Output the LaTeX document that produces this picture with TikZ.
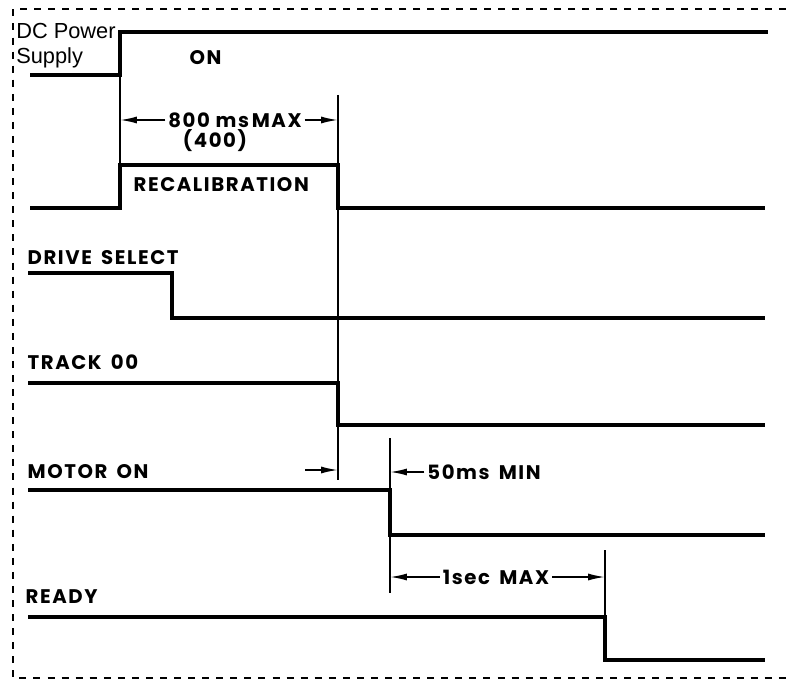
\documentclass[tikz,border=0pt]{standalone}
\usepackage{fontspec}
\setmainfont{Liberation Sans}
\newfontfamily\sigfont{Poppins}[LetterSpace=8,WordSpace=1.6]
\usepackage{tikz}
\usetikzlibrary{arrows.meta,positioning,calc}

\begin{document}
\begin{tikzpicture}[x=0.025cm,y=-0.025cm,
  sig/.style={draw,line width=2.4pt,line join=miter},
  edgeline/.style={draw,line width=1.2pt},
  frame/.style={draw,line width=1.1pt,dash pattern=on 5pt off 5pt},
  lbl/.style={font=\sigfont\fontsize{14}{16}\selectfont\bfseries,inner sep=1pt,anchor=west},
  dlbl/.style={font=\sigfont\fontsize{14}{16}\selectfont\bfseries,inner sep=2pt},
  dim/.style={draw,line width=1.2pt,-{Latex[length=12pt,width=5pt]}}]
\useasboundingbox (0,0) rectangle (786,682);
\path[frame] (786,9) -- (13,9) -- (13,678) -- (786,678);

% signal names
\node[align=left,anchor=north west,inner sep=0pt,font=\fontsize{15.5}{18}\selectfont] (pwr) at (16,23) {DC Power\\Supply};
\node[lbl] (on)    at (188,58)  {ON};
\node[lbl] (recal) at (132,185) {RECALIBRATION};
\node[lbl] (dsel)  at (26,258)  {DRIVE SELECT};
\node[lbl] (trk)   at (26,362)  {TRACK 00};
\node[lbl] (mot)   at (26,472)  {MOTOR ON};
\node[lbl] (rdy)   at (24,597)  {READY};

% waveforms
\path[sig] (30,75)  -- (120,75)  -- (120,32)  -- (768,32);
\path[sig] (30,208) -- (120,208) -- (120,165) -- (338,165) -- (338,208) -- (765,208);
\path[sig] (28,273) -- (172,273) -- (172,318) -- (765,318);
\path[sig] (28,383) -- (338,383) -- (338,425) -- (765,425);
\path[sig] (28,490) -- (390,490) -- (390,535) -- (765,535);
\path[sig] (28,617) -- (605,617) -- (605,660) -- (765,660);

% edge markers
\coordinate (pwrup)  at (120,120);
\coordinate (recdn)  at (338,120);
\coordinate (trkdn)  at (338,470);
\coordinate (motdn)  at (390,472);
\coordinate (motdn2) at (390,577);
\coordinate (rdydn)  at (605,577);
\path[edgeline] (120,75)  -- (120,165);
\path[edgeline] (338,95)  -- (338,480);
\path[edgeline] (390,438) -- (390,593);
\path[edgeline] (605,550) -- (605,617);

% timing
\node[dlbl] (t800) at (235,120) {800\hspace{4pt}ms\hspace{2pt}MAX};
\node[dlbl] (t400) at (215,141) {(400)};
\node[dlbl] (t50)  at (484,472) {50ms MIN};
\node[dlbl] (t1s)  at (496,577) {1sec MAX};
\coordinate (t50in) at (305,470);
\path[dim] (t800.west) -- (pwrup);
\path[dim] (t800.east) -- (recdn);
\path[dim] (t50in) -- (trkdn);
\path[dim] (t50.west) -- (motdn);
\path[dim] (t1s.west) -- (motdn2);
\path[dim] (t1s.east) -- (rdydn);
\end{tikzpicture}
\end{document}
